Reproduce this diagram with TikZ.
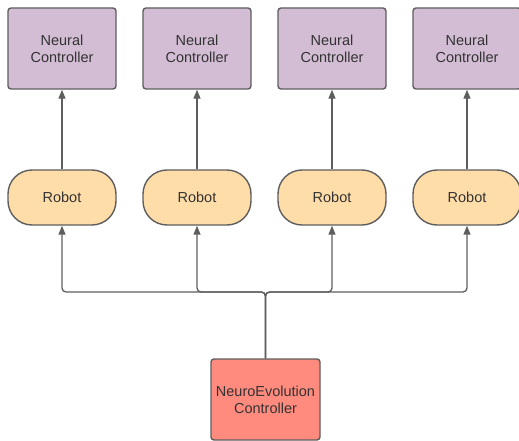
\documentclass[tikz,border=0pt]{standalone}
\usepackage{fontspec}
\setmainfont{Liberation Sans}
\usetikzlibrary{positioning, arrows.meta}

\definecolor{linegray}{HTML}{5E5E5E}
\definecolor{ncfill}{HTML}{D3BDD4}
\definecolor{robotfill}{HTML}{FFDDA8}
\definecolor{evofill}{HTML}{FF8A7E}

\begin{document}
\begin{tikzpicture}[
		x=1pt, y=-1pt,
		>={Triangle[length=9pt, width=7pt]},
		every node/.style={font=\fontsize{14.5}{17}\selectfont, text=black!80, align=center},
		ncbox/.style={draw=linegray, fill=ncfill, line width=1.4pt, rounded corners=3pt, minimum width=108pt, minimum height=81pt},
		robotbox/.style={draw=linegray, fill=robotfill, line width=1.4pt, rounded corners=24pt, minimum width=108pt, minimum height=55pt},
		evobox/.style={draw=linegray, fill=evofill, line width=1.4pt, rounded corners=3pt, minimum width=109pt, minimum height=81pt},
		conn/.style={->, draw=linegray, line width=1.3pt},
		node distance=25.6pt,
		]
		\useasboundingbox (0,0) rectangle (519,441);
		
		% Neural controllers (top row)
		\node[ncbox] (nc1) at (62,48.5) {Neural\\Controller};
		\node[ncbox, right=of nc1] (nc2) {Neural\\Controller};
		\node[ncbox, right=of nc2] (nc3) {Neural\\Controller};
		\node[ncbox, right=of nc3] (nc4) {Neural\\Controller};
		
		% Robots (middle row)
		\foreach \i in {1,...,4}
			\node[robotbox] (r\i) at (nc\i |- 0,197.5) {Robot};
		
		% NeuroEvolution controller
		\node[evobox] (evo) at (265.5,399.5) {NeuroEvolution\\Controller};
		\coordinate (bus) at (0,292);
		
		% Arrows robot -> controller
		\foreach \i in {1,...,4}
			\draw[conn] (r\i) -- (nc\i);
		
		% Arrows evolution -> robots
		\foreach \i in {1,...,4}
			\draw[conn, rounded corners=4pt] (evo.north) -- (evo.north |- bus) -| (r\i.south);
		
	\end{tikzpicture}
\end{document}
